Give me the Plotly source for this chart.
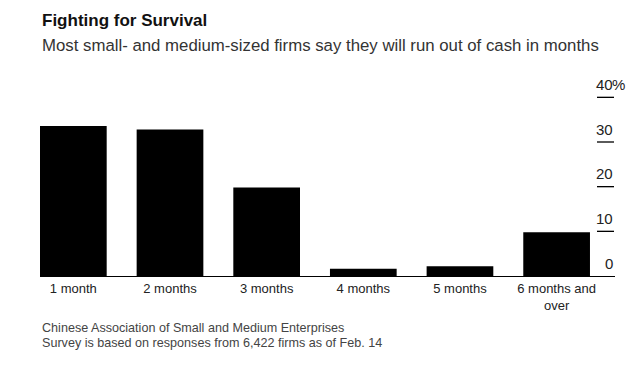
import plotly.graph_objects as go

categories = ["1 month", "2 months", "3 months", "4 months", "5 months", "6 months and<br>over"]
values = [33.6, 32.8, 19.8, 1.6, 2.2, 9.8]
y_ticks = [0, 10, 20, 30, 40]
y_tick_labels = ["0", "10", "20", "30", "40"]

FONT = "Liberation Sans, Arial, Helvetica, sans-serif"

# the page body has an 8px margin; work in screen pixels and offset
OFF = 8
W, H = 640 - OFF, 370 - OFF
left_s, right_s, top_s, base_s = 40, 615, 75, 276  # screen px
margin_l = left_s - OFF
margin_r = 640 - right_s
margin_t = top_s - OFF
margin_b = 370 - base_s
ph = H - margin_t - margin_b

fig = go.Figure()
fig.add_trace(go.Bar(
    x=list(range(len(categories))),
    y=values,
    marker=dict(color="#000000", line=dict(width=0)),
    width=0.69,
    hoverinfo="skip",
))

annotations = []
shapes = []
pw = right_s - left_s
for v, lab in zip(y_ticks, y_tick_labels):
    annotations.append(dict(
        x=1, y=v, xref="paper", yref="y", text=lab, showarrow=False,
        xanchor="right", yanchor="middle", yshift=13,
        font=dict(family=FONT, size=15, color="#222222"),
    ))
    if v != 0:
        shapes.append(dict(
            type="line", xref="paper", yref="y",
            x0=(597 - left_s) / pw, x1=(614 - left_s) / pw, y0=v, y1=v,
            line=dict(color="#000000", width=1.3),
        ))
annotations.append(dict(
    x=1, y=y_ticks[-1], xref="paper", yref="y", text="%", showarrow=False,
    xanchor="left", yanchor="middle", yshift=13, xshift=-5,
    font=dict(family=FONT, size=15, color="#222222"),
))

texts = [
    ("<b>Fighting for Survival</b>", 21, 17, "#111111"),
    ("Most small- and medium-sized firms say they will run out of cash in months", 45, 16.8, "#333333"),
    ("Chinese Association of Small and Medium Enterprises", 328, 12.6, "#444444"),
    ("Survey is based on responses from 6,422 firms as of Feb. 14", 343, 12.6, "#444444"),
]
for t, ypx, sz, col in texts:
    annotations.append(dict(
        x=0, y=(base_s - ypx) / ph, xref="paper", yref="paper", text=t,
        showarrow=False, xanchor="left", yanchor="middle",
        font=dict(family=FONT, size=sz, color=col),
    ))

fig.update_layout(
    width=W, height=H,
    margin=dict(l=margin_l, r=margin_r, t=margin_t, b=margin_b, pad=0),
    paper_bgcolor="white", plot_bgcolor="white",
    showlegend=False,
    bargap=0.31,
    xaxis=dict(
        range=[-0.345, 5.604],
        tickmode="array", tickvals=list(range(len(categories))), ticktext=categories,
        showgrid=False, zeroline=False, showline=True, linecolor="#000000", linewidth=1.3,
        ticks="", tickfont=dict(family=FONT, size=13, color="#222222"),
        fixedrange=True,
    ),
    yaxis=dict(
        range=[0, 45], showgrid=False, zeroline=False, showticklabels=False,
        showline=False, ticks="", fixedrange=True,
    ),
    annotations=annotations,
    shapes=shapes,
)

fig.write_html("out.html")
